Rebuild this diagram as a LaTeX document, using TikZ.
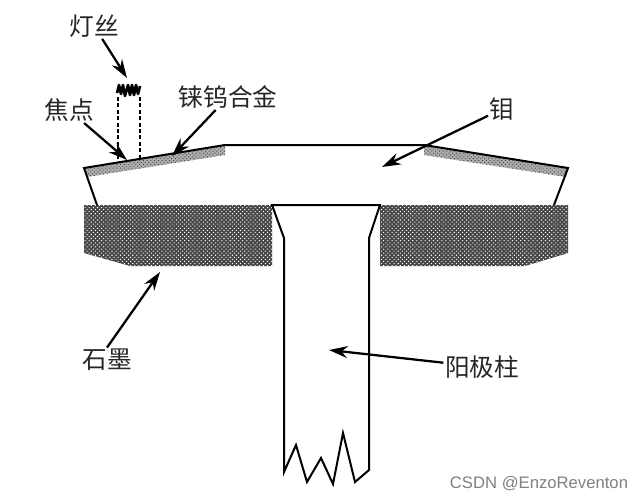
\documentclass[tikz,border=0pt]{standalone}
\usepackage{fontspec}
\usepackage{xcolor}
\usetikzlibrary{arrows.meta,patterns.meta}
\setmainfont{Noto Sans CJK SC}
\setsansfont{Liberation Sans}
\tikzset{
	outline/.style={line width=1.5pt,line join=miter},
	lead/.style={line width=1.7pt,-{Stealth[length=14pt,width=9pt]}},
	graphite/.style={fill=black!72,postaction={pattern={Dots[distance=2.2pt,radius=0.55pt,angle=45]},pattern color=white}},
	alloy/.style={fill=black!32,postaction={pattern={Dots[distance=2pt,radius=0.5pt,angle=45]},pattern color=black!75}},
	label/.style={inner sep=1pt,font=\fontsize{18.5}{20}\selectfont,text=black!85},
}
\begin{document}
\begin{tikzpicture}[x=0.75pt,y=0.75pt,yscale=-1,xscale=1]
	\path [use as bounding box] (0,0) rectangle (642,500);
	
	%Shape: graphite left
	\path [graphite] (84,205) -- (272,205) -- (272,266) -- (130,266) -- (84,253) -- cycle ;
	%Shape: graphite right
	\path [graphite] (380,205) -- (568,205) -- (568,253) -- (525,266) -- (380,266) -- cycle ;
	%Shape: alloy left
	\path [alloy] (84,168) -- (225,145) -- (225,155) -- (87,177) -- cycle ;
	%Shape: alloy right
	\path [alloy] (424,145) -- (568,168) -- (566,177) -- (424,155) -- cycle ;
	
	%Straight Lines: target outline
	\draw [outline] (97,205) -- (84,168) -- (225,145) -- (424,145) -- (568,168) -- (554,205) ;
	%Straight Lines: stem
	\draw [outline] (272,205) -- (380,205) -- (369,238) -- (369,470) -- (355,482) -- (343,433) -- (333,484) -- (321,458) -- (307,482) -- (296,445) -- (284,472) -- (284,238) -- cycle ;
	
	%Filament
	\draw [line width=2pt,line join=round] (117,93) -- (119,85) -- (121,94) -- (123,85) -- (125,96) -- (128,85) -- (130,95) -- (132,85) -- (134,95) -- (136,85) -- (138,94) -- (140,86) ;
	\coordinate (filamentL) at (118,97);
	\coordinate (filamentR) at (140,97);
	\coordinate (spotL) at (118,161);
	\coordinate (spotR) at (140,158);
	\draw [line width=1.6pt,dash pattern=on 3pt off 1.8pt] (filamentL) -- (spotL);
	\draw [line width=1.6pt,dash pattern=on 3pt off 1.8pt] (filamentR) -- (spotR);
	
	% Text Node
	\node [label] (dengsi) at (94,26) {灯丝};
	\node [label] (jiaodian) at (69,110) {焦点};
	\node [label] (alloylabel) at (228,97) {铼钨合金};
	\node [label] (mu) at (502,109) {钼};
	\node [label] (shimo) at (107,360) {石墨};
	\node [label] (yangji) at (482,367) {阳极柱};
	\node [inner sep=0pt,font=\sffamily\fontsize{12.5}{14}\selectfont,text=black!50] (mark) at (539,484) {CSDN @EnzoReventon};
	
	\coordinate (filamenttip) at (127,78);
	\coordinate (spottip) at (127,160);
	\coordinate (alloytip) at (172,156);
	\coordinate (mutip) at (382,167);
	\coordinate (shimotip) at (160,272);
	\coordinate (yangjitip) at (329,350);
	
	%Arrows
	\draw [lead] (dengsi) -- (filamenttip);
	\draw [lead] (jiaodian) -- (spottip);
	\draw [lead] (alloylabel) -- (alloytip);
	\draw [lead] (mu) -- (mutip);
	\draw [lead] (shimo.north) -- (shimotip);
	\draw [lead] (yangji) -- (yangjitip);
\end{tikzpicture}
\end{document}
